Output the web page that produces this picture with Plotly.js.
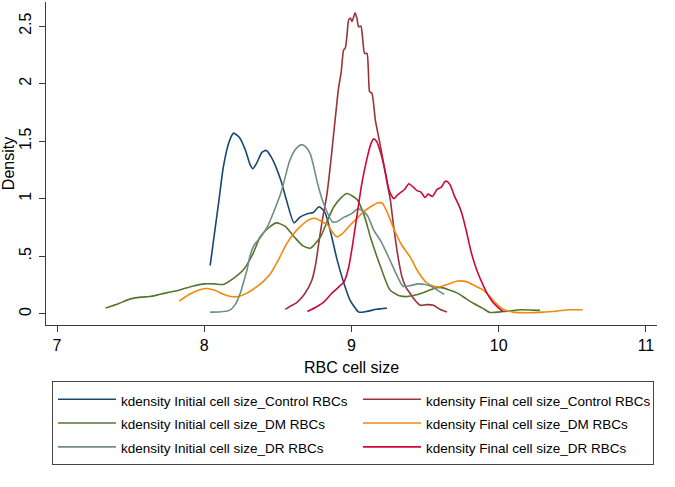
<!DOCTYPE html>
<html>
<head>
<meta charset="utf-8">
<script src="https://cdn.plot.ly/plotly-3.0.1.min.js"></script>
<style>html,body{margin:0;padding:0;background:#fff;}#chart{width:675px;height:487px;}</style>
</head>
<body>
<div id="chart"></div>
<script>
// ---- data ----
const seriesNames = [
  "kdensity Initial cell size_Control RBCs",
  "kdensity Final cell size_Control RBCs",
  "kdensity Initial cell size_DM RBCs",
  "kdensity Final cell size_DM RBCs",
  "kdensity Initial cell size_DR RBCs",
  "kdensity Final cell size_DR RBCs"
];

const initControlX = [8.04, 8.10, 8.13, 8.17, 8.20, 8.24, 8.28, 8.31, 8.33, 8.36, 8.39, 8.42, 8.46, 8.52, 8.56, 8.61, 8.65, 8.70, 8.74, 8.78, 8.82, 8.86, 8.90, 8.95, 8.99, 9.05, 9.10, 9.17, 9.24];
const initControlY = [0.42, 0.99, 1.28, 1.50, 1.57, 1.53, 1.42, 1.30, 1.26, 1.32, 1.40, 1.42, 1.35, 1.16, 0.98, 0.79, 0.84, 0.87, 0.88, 0.93, 0.88, 0.70, 0.48, 0.26, 0.12, 0.015, 0.02, 0.04, 0.05];

const finalControlX = [8.55, 8.59, 8.63, 8.68, 8.73, 8.755, 8.777, 8.80, 8.834, 8.86, 8.879, 8.89, 8.912, 8.93, 8.946, 8.958, 8.97, 8.98, 8.992, 9.003, 9.015, 9.024, 9.037, 9.048, 9.064, 9.075, 9.089, 9.105, 9.115, 9.123, 9.139, 9.162, 9.19, 9.218, 9.24, 9.264, 9.285, 9.309, 9.325, 9.343, 9.37, 9.399, 9.43, 9.467, 9.51, 9.557, 9.60, 9.648];
const finalControlY = [0.039, 0.07, 0.10, 0.17, 0.29, 0.42, 0.61, 0.80, 1.045, 1.33, 1.567, 1.70, 1.96, 2.10, 2.29, 2.31, 2.43, 2.55, 2.57, 2.54, 2.58, 2.616, 2.567, 2.494, 2.50, 2.40, 2.262, 2.262, 2.10, 1.93, 1.915, 1.683, 1.50, 1.306, 1.15, 0.987, 0.77, 0.552, 0.43, 0.32, 0.23, 0.176, 0.12, 0.074, 0.08, 0.074, 0.04, 0.016];

const initDMX = [7.33, 7.42, 7.50, 7.57, 7.63, 7.70, 7.77, 7.84, 7.92, 8.00, 8.07, 8.13, 8.20, 8.27, 8.33, 8.38, 8.44, 8.49, 8.55, 8.61, 8.67, 8.72, 8.79, 8.84, 8.88, 8.93, 8.97, 9.04, 9.09, 9.13, 9.20, 9.26, 9.32, 9.38, 9.44, 9.50, 9.56, 9.60, 9.66, 9.72, 9.78, 9.83, 9.89, 9.94, 10.03, 10.15, 10.28];
const initDMY = [0.05, 0.09, 0.13, 0.145, 0.15, 0.17, 0.19, 0.21, 0.24, 0.26, 0.26, 0.255, 0.31, 0.39, 0.52, 0.67, 0.75, 0.79, 0.76, 0.67, 0.59, 0.57, 0.67, 0.82, 0.93, 1.01, 1.045, 0.99, 0.84, 0.66, 0.40, 0.21, 0.16, 0.15, 0.165, 0.19, 0.22, 0.23, 0.21, 0.18, 0.13, 0.09, 0.05, 0.012, 0.02, 0.035, 0.03];

const finalDMX = [7.83, 7.90, 7.97, 8.02, 8.08, 8.13, 8.18, 8.23, 8.29, 8.35, 8.40, 8.45, 8.50, 8.56, 8.61, 8.65, 8.70, 8.75, 8.80, 8.84, 8.87, 8.90, 8.94, 8.99, 9.03, 9.08, 9.13, 9.18, 9.21, 9.25, 9.29, 9.34, 9.40, 9.45, 9.51, 9.56, 9.60, 9.66, 9.72, 9.78, 9.83, 9.89, 9.94, 9.99, 10.03, 10.10, 10.20, 10.30, 10.40, 10.48, 10.57];
const finalDMY = [0.11, 0.17, 0.21, 0.22, 0.20, 0.17, 0.15, 0.15, 0.18, 0.23, 0.28, 0.35, 0.46, 0.61, 0.70, 0.755, 0.81, 0.83, 0.80, 0.77, 0.71, 0.67, 0.70, 0.77, 0.82, 0.885, 0.93, 0.965, 0.96, 0.86, 0.73, 0.60, 0.49, 0.37, 0.27, 0.24, 0.235, 0.26, 0.285, 0.28, 0.25, 0.21, 0.15, 0.08, 0.04, 0.015, 0.01, 0.015, 0.025, 0.035, 0.035];

const initDRX = [8.04, 8.10, 8.17, 8.21, 8.245, 8.27, 8.29, 8.31, 8.34, 8.38, 8.43, 8.47, 8.52, 8.55, 8.58, 8.62, 8.66, 8.69, 8.72, 8.745, 8.77, 8.81, 8.87, 8.90, 8.95, 9.00, 9.04, 9.07, 9.11, 9.15, 9.20, 9.26, 9.31, 9.35, 9.40, 9.45, 9.50, 9.54, 9.59, 9.63];
const initDRY = [0.015, 0.016, 0.03, 0.08, 0.18, 0.29, 0.38, 0.50, 0.60, 0.66, 0.76, 0.88, 1.05, 1.19, 1.33, 1.43, 1.47, 1.45, 1.39, 1.27, 1.13, 0.96, 0.80, 0.80, 0.84, 0.87, 0.91, 0.90, 0.85, 0.73, 0.63, 0.47, 0.33, 0.24, 0.245, 0.26, 0.255, 0.24, 0.20, 0.17];

const finalDRX = [8.70, 8.76, 8.81, 8.86, 8.91, 8.95, 8.98, 9.01, 9.04, 9.07, 9.10, 9.13, 9.15, 9.17, 9.20, 9.23, 9.25, 9.27, 9.29, 9.31, 9.33, 9.36, 9.39, 9.42, 9.445, 9.47, 9.50, 9.52, 9.55, 9.58, 9.61, 9.635, 9.65, 9.67, 9.70, 9.73, 9.75, 9.78, 9.81, 9.84, 9.86, 9.89, 9.92, 9.96, 10.00, 10.03];
const finalDRY = [0.02, 0.06, 0.10, 0.17, 0.23, 0.28, 0.40, 0.62, 0.88, 1.13, 1.32, 1.47, 1.52, 1.50, 1.39, 1.23, 1.10, 1.03, 1.00, 1.03, 1.05, 1.08, 1.13, 1.10, 1.07, 1.06, 1.01, 1.04, 1.02, 1.08, 1.10, 1.15, 1.15, 1.12, 1.02, 0.94, 0.87, 0.72, 0.55, 0.42, 0.35, 0.26, 0.18, 0.10, 0.05, 0.02];

const xTickVals = [7, 8, 9, 10, 11];
const xTickText = ["7", "8", "9", "10", "11"];
const yTickVals = [0, 0.5, 1, 1.5, 2, 2.5];
const yTickText = ["0", ".5", "1", "1.5", "2", "2.5"];

// ---- styling ----
const colors = ["#1a476f", "#9a323c", "#55752f", "#f5870a", "#6e8e84", "#cc0a3a"];
const xs = [initControlX, finalControlX, initDMX, finalDMX, initDRX, finalDRX];
const ys = [initControlY, finalControlY, initDMY, finalDMY, initDRY, finalDRY];
const entryW = [232, 222, 232, 222, 232, 222];

const traces = seriesNames.map((name, i) => ({
  type: "scatter",
  mode: "lines",
  x: xs[i],
  y: ys[i],
  name: '<span style="font-size:13.5px">' + name + '</span>',
  line: {color: colors[i], width: 1.6, shape: "spline", smoothing: 0.6},
  legendwidth: entryW[i],
  hoverinfo: "skip"
}));

const axisColor = "#3a3a3a";
const layout = {
  width: 675,
  height: 487,
  margin: {l: 46, r: 18, t: 2, b: 162},
  paper_bgcolor: "#ffffff",
  plot_bgcolor: "#ffffff",
  font: {family: "Liberation Sans, Arial, sans-serif", color: "#000000"},
  showlegend: true,
  xaxis: {
    range: [6.925, 11.075],
    tickvals: xTickVals,
    ticktext: xTickText,
    ticks: "outside",
    ticklen: 6,
    tickwidth: 1,
    tickcolor: axisColor,
    showline: true,
    linecolor: axisColor,
    linewidth: 1,
    showgrid: false,
    zeroline: false,
    tickfont: {size: 16, family: "Liberation Sans, Arial, sans-serif"},
    title: {text: "RBC cell size", font: {size: 16}, standoff: 8}
  },
  yaxis: {
    range: [-0.097, 2.709],
    tickvals: yTickVals,
    ticktext: yTickText,
    tickangle: -90,
    ticklabelstandoff: 2,
    ticks: "outside",
    ticklen: 6,
    tickwidth: 1,
    tickcolor: axisColor,
    showline: true,
    linecolor: axisColor,
    linewidth: 1,
    showgrid: false,
    zeroline: false,
    tickfont: {size: 16, family: "Liberation Sans, Arial, sans-serif"},
    title: {text: "Density", font: {size: 16}, standoff: 0}
  },
  legend: {
    orientation: "h",
    x: 0.0098,
    xanchor: "left",
    y: -0.1745,
    yanchor: "top",
    bgcolor: "#ffffff",
    bordercolor: "#444444",
    borderwidth: 1,
    itemwidth: 58,
    font: {size: 16, family: "Liberation Sans, Arial, sans-serif", color: "#000000"},
    traceorder: "normal",
    itemclick: false,
    itemdoubleclick: false
  }
};

Plotly.newPlot("chart", traces, layout, {staticPlot: true, displayModeBar: false});
</script>
</body>
</html>
